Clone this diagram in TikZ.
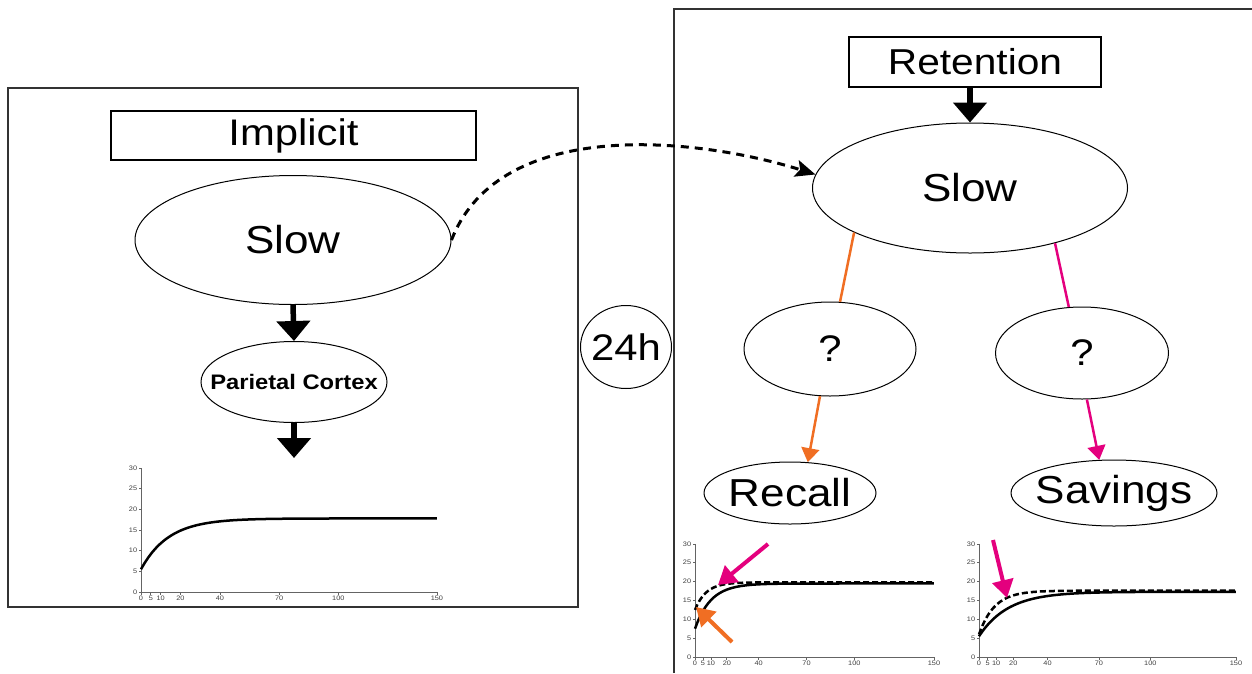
\documentclass[tikz,border=0pt]{standalone}
\usepackage{fontspec}
\setmainfont{Liberation Sans}[FakeStretch=1.13]
\usetikzlibrary{shapes.geometric,arrows.meta}
\definecolor{recallc}{RGB}{240,110,35}
\definecolor{savingc}{RGB}{228,0,126}
\definecolor{axisc}{RGB}{100,100,100}
\newcommand{\fs}[1]{\fontsize{#1}{#1}\selectfont}
% axes of one small chart, in data units
\newcommand{\chartaxes}{%
  \draw[axisline] (0,30) -- (0,0) -- (150,0);
  \foreach \v in {0,5,...,30} {\draw[axisline] (0,\v) -- ++(-2.5pt,0) node[left=0pt,ticklabel]{\v};}
  \foreach \v in {0,5,10,20,40,70,100,150} {\draw[axisline] (\v,0) -- ++(0,-2.5pt) node[below=0pt,ticklabel]{\v};}
}
\begin{document}
\begin{tikzpicture}[x=1pt,y=-1pt,
  frame/.style={draw=black!80,line width=1.3pt},
  boxed/.style={draw,rectangle,inner sep=0pt,line width=1.1pt},
  oval/.style={draw,ellipse,inner sep=0pt,line width=1pt},
  bigarrow/.style={line width=5.5pt,-{Triangle[width=33pt,length=20pt]}},
  recallline/.style={recallc,line width=2.5pt},
  savingline/.style={savingc,line width=2.5pt},
  recallarrow/.style={recallline,-{Triangle[width=18pt,length=14pt]}},
  savingarrow/.style={savingline,-{Triangle[width=18pt,length=14pt]}},
  markarrow/.style={line width=4pt,-{Triangle[width=21pt,length=18pt]}},
  axisline/.style={axisc,line width=0.8pt},
  ticklabel/.style={font=\fs{6.5},text=black!75,inner sep=1pt},
  curve/.style={line width=2.5pt},
  dcurve/.style={line width=2.5pt,dash pattern=on 6pt off 3pt}]
\useasboundingbox (0,0) rectangle (1252,673);
\draw[frame] (8,88) rectangle (578,607);
\draw[frame] (674,673) -- (674,9) -- (1252,9);
\node[boxed,minimum width=365pt,minimum height=49pt,font=\fs{37}] (implicit) at (293.5,135.5) {Implicit};
\node[oval,minimum width=316pt,minimum height=129pt,font=\fs{39}] (lslow) at (293,240) {Slow};
\node[oval,minimum width=186pt,minimum height=81pt,font=\fs{21}\bfseries] (parietal) at (294,382) {\makebox[0pt]{Parietal Cortex}};
\coordinate (lchart) at (294,458);
\draw[bigarrow] (lslow.south) -- (parietal.north);
\draw[bigarrow] (parietal.south) -- (lchart);
\node[oval,minimum width=91pt,minimum height=83pt,font=\fs{37}] (delay) at (626,347) {\makebox[0pt]{24h}};
\node[boxed,minimum width=252pt,minimum height=50pt,font=\fs{36}] (retention) at (975,62) {Retention};
\node[oval,minimum width=315pt,minimum height=130pt,font=\fs{39}] (rslow) at (970,188) {Slow};
\draw[bigarrow] (retention.south -| rslow.north) -- (rslow.north);
\draw[line width=3pt,dash pattern=on 8pt off 6pt,-{Stealth[width=17pt,length=20pt,inset=4pt]}] (lslow.east) .. controls (500,115) and (700,138) .. (rslow.175);
\node[oval,minimum width=172pt,minimum height=94pt,font=\fs{37}] (qrecall) at (830,349) {?};
\node[oval,minimum width=173pt,minimum height=92pt,font=\fs{37}] (qsaving) at (1082,353) {?};
\node[oval,minimum width=172pt,minimum height=62pt,font=\fs{39}] (recall) at (790,493) {\makebox[0pt]{Recall}};
\node[oval,minimum width=206pt,minimum height=66pt,font=\fs{39}] (savings) at (1114,493) {\makebox[0pt]{Savings}};
\draw[recallline] (rslow.201) -- (qrecall.78);
\draw[recallarrow] (qrecall.258) -- (recall.60);
\draw[savingline] (rslow.-33) -- (qsaving.106);
\draw[savingarrow] (qsaving.276) -- (savings.114);
% charts
\begin{scope}[shift={(141,592)},x=1.973pt,y=4.133pt]
  \chartaxes
  \draw[curve] plot[domain=0:150,samples=90,smooth] (\x,{17.8-12.3*exp(-\x/14)});
\end{scope}
\begin{scope}[shift={(695,657)},x=1.593pt,y=3.77pt]
  \chartaxes
  \draw[curve] plot[domain=0:150,samples=90,smooth] (\x,{19.5-12*exp(-\x/10)});
  \draw[dcurve] plot[domain=0:150,samples=90,smooth] (\x,{19.8-7.3*exp(-\x/7)});
\end{scope}
\begin{scope}[shift={(979,657)},x=1.713pt,y=3.77pt]
  \chartaxes
  \draw[curve] plot[domain=0:150,samples=90,smooth] (\x,{17.3-11.8*exp(-\x/17)});
  \draw[dcurve] plot[domain=0:150,samples=90,smooth] (\x,{17.6-11.6*exp(-\x/9)});
\end{scope}
\coordinate (pinktail) at (768,544);
\coordinate (pinktip) at (718,585);
\coordinate (orangetail) at (732,642);
\coordinate (orangetip) at (696,607);
\coordinate (savtail) at (993,540);
\coordinate (savtip) at (1007,598);
\draw[markarrow,savingc] (pinktail) -- (pinktip);
\draw[markarrow,recallc] (orangetail) -- (orangetip);
\draw[markarrow,savingc] (savtail) -- (savtip);
\end{tikzpicture}
\end{document}
